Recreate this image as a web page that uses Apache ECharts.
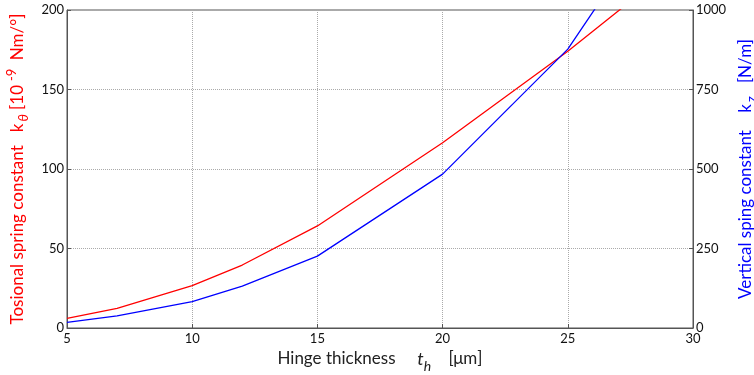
<!DOCTYPE html>
<html>
<head>
<meta charset="utf-8">
<script src="https://cdn.jsdelivr.net/npm/echarts@6/dist/echarts.min.js"></script>
<style>
  html, body { margin: 0; padding: 0; background: #fff; }
  #main { width: 754px; height: 375px; }
</style>
</head>
<body>
<div id="main"></div>
<script>
// hinge thickness (um)
var thickness = [5, 7, 10, 12, 15, 20, 25, 30];
// torsional spring constant k_theta (1e-9 Nm/deg), left axis
var torsional = [6.1, 12.4, 26.6, 39.6, 64.2, 116.5, 174, 237];
// vertical spring constant k_z (N/m), right axis
var vertical = [18, 38, 83, 132, 226, 484, 877, 1460];

var xTicks = [5, 10, 15, 20, 25, 30];
var leftTicks = [0, 50, 100, 150, 200];
var rightTicks = [0, 250, 500, 750, 1000];

var font = 'Lato, "Open Sans", sans-serif';

function pairs(xs, ys) {
  return xs.map(function (x, i) { return [x, ys[i]]; });
}

var chart = echarts.init(document.getElementById('main'));
var option = {
  backgroundColor: '#fff',
  animation: false,
  textStyle: { fontFamily: font },
  grid: {
    left: 67, right: 61, top: 10, bottom: 47,
    outerBoundsMode: 'none',
    containLabel: false,
    show: true, borderColor: '#555', borderWidth: 1
  },
  xAxis: {
    type: 'value',
    min: xTicks[0], max: xTicks[xTicks.length - 1], interval: 5,
    name: '{t|Hinge thickness     }{i|t}{sub|h}{t|    [μm]}',
    nameLocation: 'middle',
    nameGap: 10,
    nameTextStyle: {
      rich: {
        t: { fontSize: 17, color: '#222', fontFamily: font },
        i: { fontSize: 18, color: '#222', fontStyle: 'italic', fontFamily: font },
        sub: { fontSize: 14, color: '#222', fontStyle: 'italic', fontFamily: font, padding: [15, 0, 0, 0] }
      }
    },
    axisLine: { lineStyle: { color: '#555' } },
    axisTick: { inside: true, length: 4, lineStyle: { color: '#555' } },
    axisLabel: { color: '#111', fontSize: 13, margin: 4 },
    splitLine: { show: true, lineStyle: { type: 'dotted', color: '#aaa' } }
  },
  yAxis: [{
    type: 'value',
    min: leftTicks[0], max: leftTicks[leftTicks.length - 1], interval: 50,
    name: '{t|Tosional spring constant   k}{sub|θ}{t| [10}{sup|-9}{t| Nm/°]}',
    nameLocation: 'middle',
    nameRotate: 90,
    nameGap: 34,
    nameTextStyle: {
      rich: {
        t: { fontSize: 17, color: '#ff0000', fontFamily: font },
        sub: { fontSize: 13, color: '#ff0000', fontStyle: 'italic', fontFamily: font, padding: [12, 0, 0, 2] },
        sup: { fontSize: 13, color: '#ff0000', fontFamily: font, padding: [0, 4, 12, 4] }
      }
    },
    axisLine: { show: true, lineStyle: { color: '#555' } },
    axisTick: { show: true, inside: true, length: 4, lineStyle: { color: '#555' } },
    axisLabel: { color: '#111', fontSize: 13, margin: 3 },
    splitLine: { show: true, lineStyle: { type: 'dotted', color: '#aaa' } }
  }, {
    type: 'value',
    position: 'right',
    min: rightTicks[0], max: rightTicks[rightTicks.length - 1], interval: 250,
    name: '{t|Vertical sping constant    k}{sub|z}{t|   [N/m]}',
    nameLocation: 'middle',
    nameRotate: 90,
    nameGap: 32,
    nameTextStyle: {
      rich: {
        t: { fontSize: 17, color: '#0000ff', fontFamily: font },
        sub: { fontSize: 13, color: '#0000ff', fontFamily: font, padding: [12, 0, 0, 2] }
      }
    },
    axisLine: { show: true, lineStyle: { color: '#555' } },
    axisTick: { show: true, inside: true, length: 4, lineStyle: { color: '#555' } },
    axisLabel: { color: '#111', fontSize: 13, margin: 3, formatter: function (v) { return String(v); } },
    splitLine: { show: false }
  }],
  series: [{
    name: 'torsional',
    type: 'line',
    yAxisIndex: 0,
    data: pairs(thickness, torsional),
    showSymbol: false,
    clip: true,
    lineStyle: { color: '#ff0000', width: 1.3 },
    itemStyle: { color: '#ff0000' }
  }, {
    name: 'vertical',
    type: 'line',
    yAxisIndex: 1,
    data: pairs(thickness, vertical),
    showSymbol: false,
    clip: true,
    lineStyle: { color: '#0000ff', width: 1.3 },
    itemStyle: { color: '#0000ff' }
  }]
};
chart.setOption(option);
</script>
</body>
</html>
